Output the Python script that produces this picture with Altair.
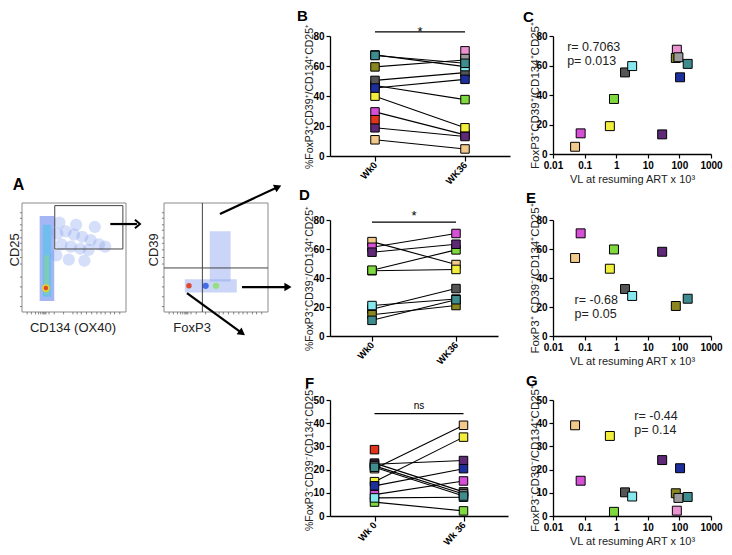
import altair as alt
import pandas as pd

FONT = "Liberation Sans"

# ---------------- data ----------------
PATIENTS = ["tan", "magenta", "yellow", "green", "dgray", "cyan", "purple",
            "pink", "olive", "gray", "blue", "teal", "red"]
COLORS = ["#f2c98a", "#d64fd6", "#f2ee3c", "#7fd83e", "#555555", "#86e8ef", "#5e2a78",
          "#eb92d2", "#8a8620", "#9b9b9b", "#1d2f9c", "#3f8c8e", "#e2341a"]

B_LABELS = ["Wk0", "WK36"]
B_WK0 = [10.8, 29.4, 39.9, 47.0, 50.4, 67.4, 18.8, None, 59.4, None, 45.3, 67.0, 24.2]
B_WK36 = [4.7, 14.1, 18.8, 37.6, 55.6, 59.6, 13.0, 70.1, 64.0, 65.0, 51.1, 61.8, None]

D_LABELS = ["Wk0", "WK36"]
D_WK0 = [65.1, 61.2, 45.0, 45.4, 18.5, 21.0, 57.8, None, 14.7, None, None, 10.8, None]
D_WK36 = [49.3, 70.7, 45.9, 59.4, 32.7, 25.5, 63.3, None, 21.0, None, None, 25.0, None]

F_LABELS = ["Wk 0", "Wk 36"]
F_WK0 = [20.4, 9.2, 14.8, 6.0, 22.8, 7.8, 22.3, None, None, 21.6, 13.0, 21.0, 28.6]
F_WK36 = [39.1, 15.1, 34.0, 2.2, 10.4, 8.1, 23.9, None, None, 9.5, 20.4, 8.6, None]

VL = [0.05, 0.075, 0.63, 0.85, 1.9, 3.2, 28.5, 83, 77, 93, 105, 183, None]
C_Y = [4.9, 14.0, 18.9, 37.3, 55.3, 59.6, 13.3, 70.7, 65.1, 65.6, 52.0, 61.1, None]
E_Y = [53.8, 70.8, 46.4, 59.7, 32.4, 27.6, 58.1, None, 20.7, None, None, 25.7, None]
G_Y = [39.1, 15.2, 34.5, 1.8, 10.2, 8.4, 24.1, 2.3, 9.8, 7.8, 20.6, 8.2, None]
VL_TICKS = [0.01, 0.1, 1, 10, 100, 1000]

C_STATS = ["r= 0.7063", "p= 0.013"]
E_STATS = ["r= -0.68", "p= 0.05"]
G_STATS = ["r= -0.44", "p= 0.14"]

fill_scale = alt.Scale(domain=PATIENTS, range=COLORS)


def letter(text, dx, dy):
    return alt.Chart(pd.DataFrame({"s": [text]})).mark_text(
        fontSize=15, fontWeight="bold", font=FONT, color="black", align="left",
        baseline="alphabetic").encode(x=alt.value(dx), y=alt.value(dy), text="s:N")


def paired_panel(let, ldx, ldy, labels, wk0, wk36, ymax, ystep, ytitle, sig_y, sig_text,
                 sig_dy, sig_size, width, height):
    rows = []
    for p, a, b in zip(PATIENTS, wk0, wk36):
        if a is not None:
            rows.append({"patient": p, "t": 0, "v": a})
        if b is not None:
            rows.append({"patient": p, "t": 1, "v": b})
    df = pd.DataFrame(rows)
    paired = [p for p, a, b in zip(PATIENTS, wk0, wk36) if a is not None and b is not None]
    xenc = alt.X("t:Q", scale=alt.Scale(domain=[-0.5, 1.5], nice=False, zero=False),
                 axis=alt.Axis(values=[0, 1], title=None, labelFlush=False,
                               labelExpr=f"datum.value == 0 ? '{labels[0]}' : '{labels[1]}'",
                               labelAngle=-48, labelAlign="right", labelBaseline="middle",
                               labelFontSize=9.5, tickSize=5))
    yenc = alt.Y("v:Q", scale=alt.Scale(domain=[0, ymax], nice=False),
                 axis=alt.Axis(values=list(range(0, ymax + 1, ystep)), title=ytitle,
                               titleX=-21, titleBaseline="middle", titleFontSize=10.5))
    base = alt.Chart(df)
    lines = base.transform_filter(
        alt.FieldOneOfPredicate(field="patient", oneOf=paired)
    ).mark_line(color="black", strokeWidth=1.1).encode(x=xenc, y=yenc, detail="patient:N")
    pts = base.mark_square(size=72, stroke="black", strokeWidth=1, opacity=1).encode(
        x=xenc, y=yenc, fill=alt.Fill("patient:N", scale=fill_scale, legend=None))
    sig_df = pd.DataFrame({"t": [0.0], "t2": [1.0], "v": [sig_y], "m": [0.5], "s": [sig_text]})
    sig = alt.Chart(sig_df).mark_rule(color="black", strokeWidth=1.2).encode(
        x=xenc, x2="t2:Q", y=yenc)
    sigtxt = alt.Chart(sig_df).mark_text(fontSize=sig_size, dy=sig_dy, baseline="alphabetic",
                                         font=FONT, color="black").encode(
        x=alt.X("m:Q", scale=alt.Scale(domain=[-0.5, 1.5], nice=False, zero=False)),
        y=yenc, text="s:N")
    return alt.layer(lines, pts, sig, sigtxt, letter(let, ldx, ldy)).properties(
        width=width, height=height)


def scatter_panel(let, ldx, ldy, yvals, ymax, ystep, ytitle, stats, sx, sy1, sy2, height):
    rows = [{"patient": p, "vl": v, "y": y} for p, v, y in zip(PATIENTS, VL, yvals)
            if v is not None and y is not None]
    df = pd.DataFrame(rows)
    xenc = alt.X("vl:Q", scale=alt.Scale(type="log", domain=[0.01, 1000], nice=False),
                 axis=alt.Axis(values=VL_TICKS, format="~g", labelFlush=False,
                               title="VL at resuming ART x 10³", titleFontSize=11,
                               titlePadding=3))
    yenc = alt.Y("y:Q", scale=alt.Scale(domain=[0, ymax], nice=False),
                 axis=alt.Axis(values=list(range(0, ymax + 1, ystep)), title=ytitle,
                               titleX=-18, titleBaseline="middle", titleFontSize=11.5))
    pts = alt.Chart(df).mark_square(size=80, stroke="black", strokeWidth=1, opacity=1).encode(
        x=xenc, y=yenc, fill=alt.Fill("patient:N", scale=fill_scale, legend=None))
    st = pd.DataFrame({"vl": [sx, sx], "y": [sy1, sy2], "s": stats})
    txt = alt.Chart(st).mark_text(align="left", baseline="alphabetic", fontSize=12.5,
                                  font=FONT, color="#222").encode(x=xenc, y=yenc, text="s:N")
    return alt.layer(pts, txt, letter(let, ldx, ldy)).properties(width=158, height=height)


# ---------------- panel A (flow cytometry sketch) ----------------
CW, CH = 279, 116
F1_LEFT, F_TOP = 14, -17
FW, FH, FGAP = 104, 109, 38
ux, uy = FW / 100, FH / 100
XOFF2 = (FW + FGAP) / ux
xdom = [-F1_LEFT / ux, (CW - F1_LEFT) / ux]
fb = F_TOP + FH
ydom = [(fb - CH) / uy, fb / uy]
AX = alt.Scale(domain=xdom, nice=False, zero=False)
AY = alt.Scale(domain=ydom, nice=False, zero=False)


def ax(field):
    return alt.X(field, scale=AX, axis=None)


def ay(field):
    return alt.Y(field, scale=AY, axis=None)


# populations (plot-relative %, density level)
POP1_RECT = {"x": [17, 20, 21.5], "x2": [31, 28, 26], "y": [10, 14, 16], "y2": [88, 80, 52],
             "lvl": ["low", "mid", "high"]}
POP1_CLOUD_X = [34, 42, 50, 58, 66, 74, 38, 47, 56, 64, 33, 45, 60, 80, 36, 52, 70]
POP1_CLOUD_Y = [72, 74, 71, 69, 66, 62, 62, 60, 58, 57, 52, 48, 47, 60, 82, 80, 78]
POP2_RECT = {"x": [20, 44], "x2": [70, 64], "y": [18, 28], "y2": [30, 74],
             "lvl": ["sparse", "sparse"]}
POP_HOT = {"x": [23, 23, 24, 50, 40], "y": [22, 22, 24, 24, 24], "plot": [1, 1, 2, 2, 2],
           "lvl": ["peak", "hot", "hot", "high", "low"]}
LVL = ["sparse", "low", "mid", "high", "peak", "hot"]
LVL_COL = ["#8aa2ee", "#3560e6", "#2fc8e6", "#8fe070", "#f0d020", "#e03a1a"]
lvl_scale = alt.Scale(domain=LVL, range=LVL_COL)

FLOW_XTICKS = [5, 9, 13, 16, 18, 20, 21, 22, 23, 26, 31, 40, 49, 53, 57, 62, 67, 72, 76, 80, 85, 89, 94]
FLOW_YTICKS = [5, 14, 23, 32, 44, 50, 57, 63, 68, 75, 80, 86, 91]

rect_rows = []
for i in range(3):
    rect_rows.append({"x": POP1_RECT["x"][i], "x2": POP1_RECT["x2"][i], "y": POP1_RECT["y"][i],
                      "y2": POP1_RECT["y2"][i], "lvl": POP1_RECT["lvl"][i]})
for i in range(2):
    rect_rows.append({"x": POP2_RECT["x"][i] + XOFF2, "x2": POP2_RECT["x2"][i] + XOFF2,
                      "y": POP2_RECT["y"][i], "y2": POP2_RECT["y2"][i], "lvl": POP2_RECT["lvl"][i]})
dens = alt.Chart(pd.DataFrame(rect_rows)).mark_rect(opacity=0.45).encode(
    x=ax("x:Q"), x2="x2:Q", y=ay("y:Q"), y2="y2:Q",
    fill=alt.Fill("lvl:N", scale=lvl_scale, legend=None))
cloud = alt.Chart(pd.DataFrame({"x": POP1_CLOUD_X, "y": POP1_CLOUD_Y, "lvl": "sparse"})).mark_circle(
    size=150, opacity=0.35).encode(x=ax("x:Q"), y=ay("y:Q"),
                                   fill=alt.Fill("lvl:N", scale=lvl_scale, legend=None))
hot_df = pd.DataFrame({"x": [x + (XOFF2 if p == 2 else 0) for x, p in zip(POP_HOT["x"], POP_HOT["plot"])],
                       "y": POP_HOT["y"], "lvl": POP_HOT["lvl"],
                       "sz": [60, 20, 30, 40, 40]})
hot = alt.Chart(hot_df).mark_circle(opacity=0.9).encode(
    x=ax("x:Q"), y=ay("y:Q"), size=alt.Size("sz:Q", scale=None, legend=None),
    fill=alt.Fill("lvl:N", scale=lvl_scale, legend=None))

frames = alt.Chart(pd.DataFrame({"x": [0, XOFF2], "x2": [100, XOFF2 + 100],
                                 "y": [0, 0], "y2": [100, 100]})).mark_rect(
    fillOpacity=0, stroke="#8a8a8a", strokeWidth=1).encode(
    x=ax("x:Q"), x2="x2:Q", y=ay("y:Q"), y2="y2:Q")
gate = alt.Chart(pd.DataFrame({"x": [31.5], "x2": [97], "y": [57.8], "y2": [97.6]})).mark_rect(
    fillOpacity=0, stroke="#444", strokeWidth=1).encode(
    x=ax("x:Q"), x2="x2:Q", y=ay("y:Q"), y2="y2:Q")
quad = alt.Chart(pd.DataFrame({"x": [XOFF2 + 36.9, XOFF2], "x2": [XOFF2 + 36.9, XOFF2 + 100],
                               "y": [0, 40.4], "y2": [100, 40.4]})).mark_rule(
    color="#444", strokeWidth=1).encode(x=ax("x:Q"), x2="x2:Q", y=ay("y:Q"), y2="y2:Q")

tick_rows = []
for off in (0, XOFF2):
    for t in FLOW_XTICKS:
        tick_rows.append({"x": off + t, "x2": off + t, "y": 0, "y2": -2.2})
    for t in FLOW_YTICKS:
        tick_rows.append({"x": off, "x2": off - 2.0, "y": t, "y2": t})
ticks = alt.Chart(pd.DataFrame(tick_rows)).mark_rule(color="#666", strokeWidth=0.8).encode(
    x=ax("x:Q"), x2="x2:Q", y=ay("y:Q"), y2="y2:Q")

ARROWS = {"x": [84.9, XOFF2 + 53.8, XOFF2 + 75, XOFF2 + 22.1],
          "x2": [110.5, XOFF2 + 109.6, XOFF2 + 117.5, XOFF2 + 75],
          "y": [80.7, 89.9, 22.9, 17.4], "y2": [80.7, 114.7, 22.9, -19.3]}
arrows = alt.Chart(pd.DataFrame(ARROWS)).mark_rule(color="black", strokeWidth=2.2).encode(
    x=ax("x:Q"), x2="x2:Q", y=ay("y:Q"), y2="y2:Q")
heads = alt.Chart(pd.DataFrame({"x": [XOFF2 + 109.6, XOFF2 + 119.2, XOFF2 + 75],
                                "y": [114.7, 22.9, -19.3], "ang": [65, 90, 126]})).mark_point(
    shape="triangle-up", filled=True, size=70, color="black", opacity=1).encode(
    x=ax("x:Q"), y=ay("y:Q"), angle=alt.Angle("ang:Q", scale=None))
chev = alt.Chart(pd.DataFrame({"x": [111], "y": [80.7]})).mark_point(
    shape="M -0.6 -1 L 0.6 0 L -0.6 1", filled=False, size=70, color="black",
    strokeWidth=2, opacity=1).encode(x=ax("x:Q"), y=ay("y:Q"))

lab_h = alt.Chart(pd.DataFrame({"x": [49, XOFF2 + 27], "y": [-14.5, -14.5],
                                "s": ["CD134 (OX40)", "FoxP3"]})).mark_text(
    fontSize=13, font=FONT, color="#222", baseline="middle").encode(
    x=ax("x:Q"), y=ay("y:Q"), text="s:N")
lab_v = alt.Chart(pd.DataFrame({"x": [-7, XOFF2 - 10], "y": [57, 57],
                                "s": ["CD25", "CD39"]})).mark_text(
    fontSize=13, font=FONT, color="#222", baseline="middle", angle=270).encode(
    x=ax("x:Q"), y=ay("y:Q"), text="s:N")
lab_a = alt.Chart(pd.DataFrame({"x": [-9], "y": [112], "s": ["A"]})).mark_text(
    fontSize=16, fontWeight="bold", font=FONT, color="black", align="left",
    baseline="alphabetic").encode(x=ax("x:Q"), y=ay("y:Q"), text="s:N")

panelA = alt.layer(dens, cloud, hot, frames, gate, quad, ticks, arrows, heads, chev,
                   lab_h, lab_v, lab_a).properties(width=CW, height=CH)


def spacer(h, top):
    # invisible mark; reserves head-room above the first row
    return alt.Chart(pd.DataFrame({"z": [0]})).mark_point(opacity=0, size=4).encode(
        x=alt.value(CW / 2), y=alt.value(top)).properties(width=CW, height=h)


# ---------------- panels ----------------
B = paired_panel("B", -33, -15, B_LABELS, B_WK0, B_WK36, 80, 20, "%FoxP3⁺CD39⁺/CD134⁺CD25⁺",
                 82.7, "*", 4, 13, 180, 120)
D = paired_panel("D", -31, -20, D_LABELS, D_WK0, D_WK36, 80, 20, "%FoxP3⁺CD39⁻/CD134⁺CD25⁺",
                 78.6, "*", -2, 13, 168, 116)
F = paired_panel("F", -25, -12, F_LABELS, F_WK0, F_WK36, 50, 10, "%FoxP3⁻CD39⁻/CD134⁺CD25⁺",
                 44.1, "ns", -5, 10, 178, 116)
C = scatter_panel("C", -30, -14, C_Y, 80, 20, "FoxP3⁺CD39⁺/CD134⁺CD25⁺", C_STATS,
                  0.028, 69.8, 60.2, 118)
E = scatter_panel("E", -27, -17, E_Y, 80, 20, "FoxP3⁺ CD39⁻/CD134⁺CD25⁺", E_STATS,
                  0.048, 22, 12.3, 116)
G = scatter_panel("G", -27, -14, G_Y, 50, 10, "FoxP3⁻CD39⁻/CD134⁺CD25⁺", G_STATS,
                  3.75, 41.3, 35.2, 116)

chart = alt.concat(spacer(10, -27), B, C, panelA, D, E, spacer(10, 5), F, G,
                   columns=3, spacing={"row": 64, "column": 43},
                   bounds="flush", align="each").resolve_scale(
    fill="independent", x="independent", y="independent").properties(
    padding=0).configure_view(stroke=None).configure_axis(
    labelFont=FONT, titleFont=FONT, labelFontSize=10, labelFontWeight="bold",
    labelColor="black", titleColor="#222", titleFontWeight="normal",
    domainColor="black", tickColor="black", grid=False, tickSize=4,
    domainWidth=1.3, tickWidth=1.2, labelPadding=2)

chart.save("out.html", embed_options={"renderer": "svg", "actions": False})
